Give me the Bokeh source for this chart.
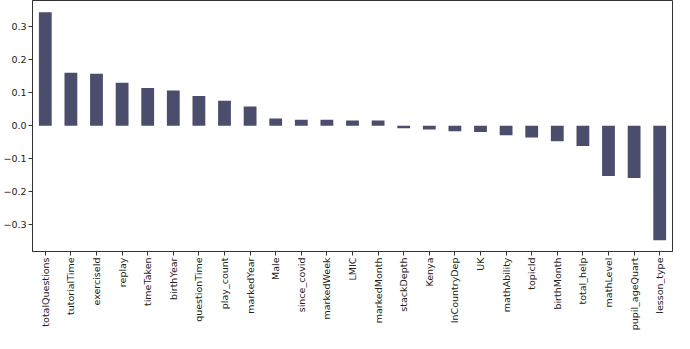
from bokeh.plotting import figure
from bokeh.models import FactorRange, Range1d, FixedTicker, CustomJSTickFormatter, ColumnDataSource
from bokeh.embed import file_html
from bokeh.resources import INLINE
import math

features = ["totalQuestions", "tutorialTime", "exerciseId", "replay", "timeTaken",
            "birthYear", "questionTime", "play_count", "markedYear", "Male",
            "since_covid", "markedWeek", "LMIC", "markedMonth", "stackDepth",
            "Kenya", "InCountryDep", "UK", "mathAbility", "topicId",
            "birthMonth", "total_help", "mathLevel", "pupil_ageQuart", "lesson_type"]
correlation = [0.344, 0.161, 0.158, 0.130, 0.114,
               0.107, 0.090, 0.076, 0.058, 0.022,
               0.018, 0.018, 0.016, 0.016, -0.008,
               -0.012, -0.017, -0.019, -0.029, -0.036,
               -0.047, -0.062, -0.153, -0.159, -0.348]
y_ticks = [-0.3, -0.2, -0.1, 0.0, 0.1, 0.2, 0.3]

src = ColumnDataSource(dict(x=features, top=correlation))

p = figure(width=674, height=333, output_backend="svg", toolbar_location=None,
           x_range=FactorRange(factors=features, range_padding=0),
           y_range=Range1d(-0.382, 0.38),
           min_border_left=25, min_border_right=2, min_border_top=0, min_border_bottom=0)

p.vbar(x="x", top="top", bottom=0, width=0.5, source=src,
       fill_color="#4a4d6b", line_color=None)

p.xgrid.visible = False
p.ygrid.visible = False
p.outline_line_color = "#333333"
p.outline_line_width = 1
p.background_fill_color = "white"
p.border_fill_color = "white"

p.yaxis.ticker = FixedTicker(ticks=y_ticks)
p.yaxis.formatter = CustomJSTickFormatter(code="""
    const v = Math.abs(tick) < 1e-9 ? 0 : tick;
    return (v < 0 ? "\u2212" : "") + Math.abs(v).toFixed(1);
""")
p.yaxis.minor_tick_line_color = None

for ax in (p.xaxis, p.yaxis):
    ax.axis_line_color = "#333333"
    ax.major_tick_line_color = "#333333"
    ax.major_tick_out = 4
    ax.major_tick_in = 0
    ax.major_label_text_font = "DejaVu Sans"
    ax.major_label_text_font_size = "9.5px"
    ax.major_label_text_color = "#222222"
    ax.major_label_standoff = 2

p.xaxis.major_label_orientation = math.pi / 2

open("out.html", "w").write(file_html(p, INLINE))
